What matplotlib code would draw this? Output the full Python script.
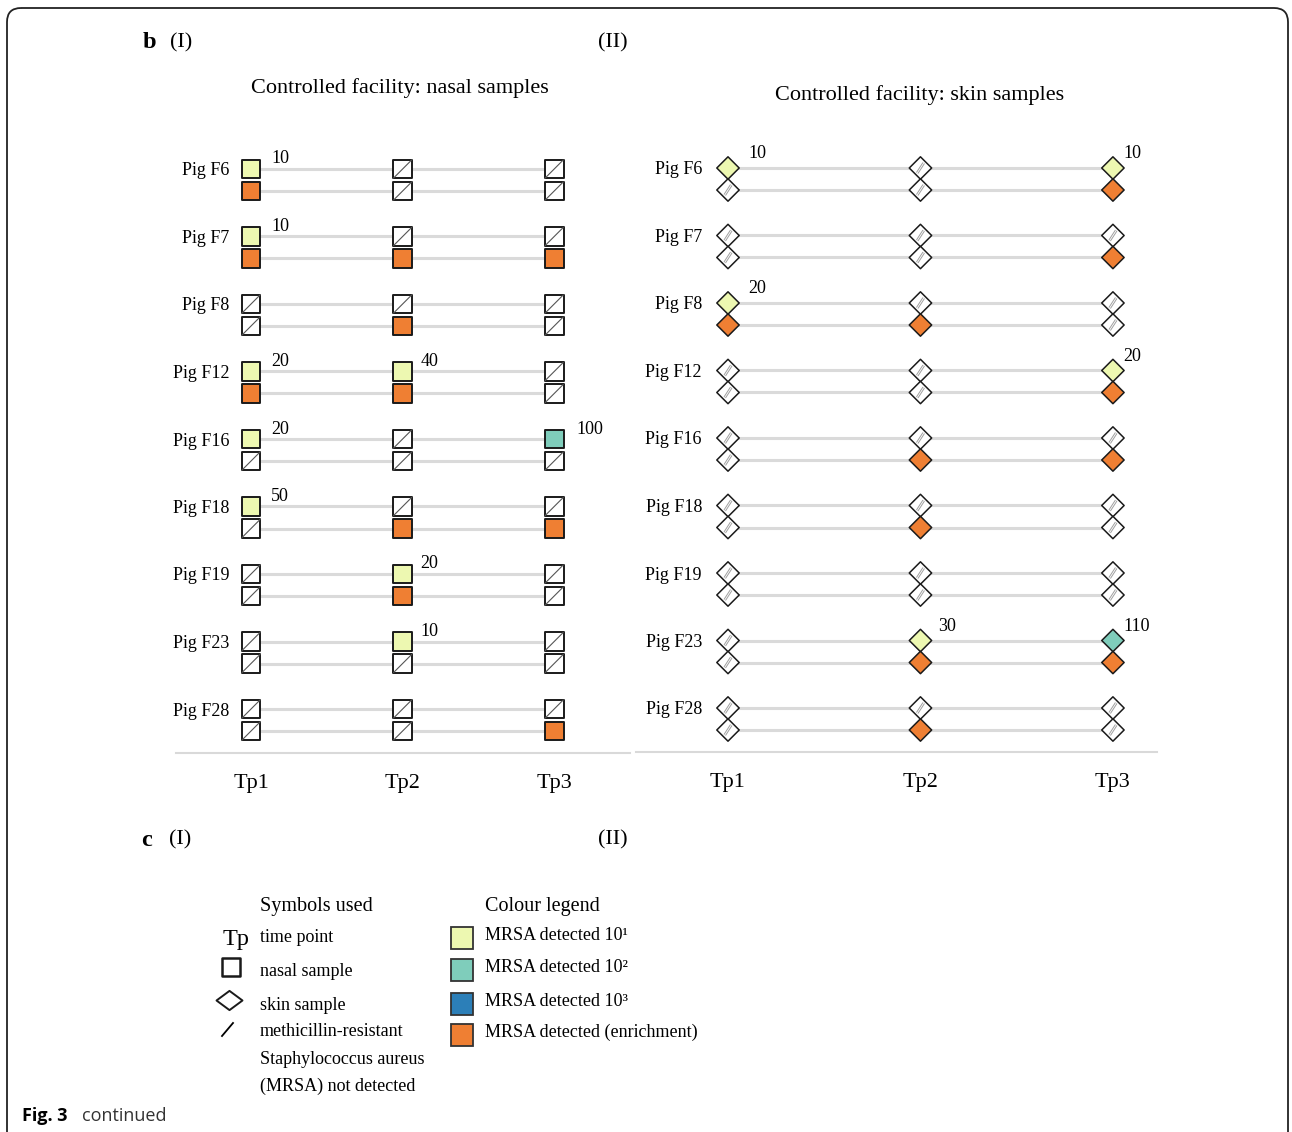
import numpy as np
import matplotlib
matplotlib.use('Agg')
import matplotlib.pyplot as plt
from matplotlib.path import Path
from matplotlib.patches import FancyBboxPatch, Rectangle

plt.rcParams['font.family'] = ['Liberation Serif', 'DejaVu Serif']
plt.rcParams['mathtext.default'] = 'regular'

# ---------------- data ----------------
pigs = ['Pig F6', 'Pig F7', 'Pig F8', 'Pig F12', 'Pig F16',
        'Pig F18', 'Pig F19', 'Pig F23', 'Pig F28']
timepoints = ['Tp1', 'Tp2', 'Tp3']

# MRSA counts from direct plating (0 = not detected); rows = pigs, cols = Tp1..Tp3
nasal_counts = [[10, 0, 0], [10, 0, 0], [0, 0, 0], [20, 40, 0], [20, 0, 100],
                [50, 0, 0], [0, 20, 0], [0, 10, 0], [0, 0, 0]]
# MRSA detected after enrichment (1 = detected, 0 = not detected)
nasal_enrich = [[1, 0, 0], [1, 1, 1], [0, 1, 0], [1, 1, 0], [0, 0, 0],
                [0, 1, 1], [0, 1, 0], [0, 0, 0], [0, 0, 1]]

skin_counts = [[10, 0, 10], [0, 0, 0], [20, 0, 0], [0, 0, 20], [0, 0, 0],
               [0, 0, 0], [0, 0, 0], [0, 30, 110], [0, 0, 0]]
skin_enrich = [[0, 0, 1], [0, 0, 1], [1, 1, 0], [0, 0, 1], [0, 1, 1],
               [0, 1, 0], [0, 0, 0], [0, 1, 1], [0, 1, 0]]

level_colors = ['#edf8b1', '#7fcdbb', '#2c7fb8']   # 10^1, 10^2, 10^3
enrich_color = '#ef7f33'
legend_labels = ['MRSA detected 10¹', 'MRSA detected 10²',
                 'MRSA detected 10³', 'MRSA detected (enrichment)']

# ---------------- style ----------------
W, H = 1292, 1132
PAIR = 22 / 67.5          # vertical offset of enrichment row inside a pig row
LINE_GRAY = '#dadada'
EDGE = '#1a1a1a'

sq_slash = Path([(-1, -1), (1, 1)], [Path.MOVETO, Path.LINETO])
dm_slash = Path([(-0.65, -1), (0.65, 1)], [Path.MOVETO, Path.LINETO])

fig = plt.figure(figsize=(W / 100, H / 100), dpi=100)

# overlay axes in pixel coordinates for frame, headings and legend
ov = fig.add_axes([0, 0, 1, 1], zorder=0)
ov.set_xlim(0, W)
ov.set_ylim(H, 0)
ov.axis('off')


def add_panel(rect_px, xlim, counts, enrich, kind, label_dx, num_dx_list, num_dy):
    l, t, r, b = rect_px
    ax = fig.add_axes([l / W, (H - b) / H, (r - l) / W, (b - t) / H], zorder=2)
    ax.set_facecolor('none')
    counts = np.asarray(counts)
    enrich = np.asarray(enrich)
    n = len(pigs)
    x = np.arange(len(timepoints))
    top_y = np.arange(n, dtype=float)
    bot_y = top_y + PAIR
    for i in range(n):
        for yy in (top_y[i], bot_y[i]):
            ax.plot([x[0], x[-1]], [yy, yy], color=LINE_GRAY, lw=2.2,
                    solid_capstyle='butt', zorder=1)
        ax.annotate(pigs[i], xy=(x[0], top_y[i]), xytext=(label_dx, -2),
                    textcoords='offset pixels', ha='right', va='center',
                    fontsize=13)
    if kind == 'square':
        mk, s, lw = 's', 180, 1.4
    else:
        mk, s, lw = 'D', 130, 1.1
    for i in range(n):
        for j in x:
            c = counts[i, j]
            if c > 0:
                lvl = int(np.floor(np.log10(c))) - 1
                face_t = level_colors[lvl]
            else:
                face_t = 'white'
            face_b = enrich_color if enrich[i, j] else 'white'
            ax.scatter([j, j], [top_y[i], bot_y[i]], s=s, marker=mk,
                       facecolors=[face_t, face_b], edgecolors=EDGE,
                       linewidths=lw, zorder=3)
            for yy, det in ((top_y[i], c > 0), (bot_y[i], enrich[i, j] > 0)):
                if det:
                    continue
                if kind == 'square':
                    ax.scatter([j], [yy], s=s, marker=sq_slash, facecolors='none',
                               edgecolors='#555555', linewidths=0.8, zorder=4)
                else:
                    ax.scatter([j], [yy], s=52, marker=dm_slash, facecolors='none',
                               edgecolors='#a0a0a0', linewidths=2.0, zorder=4)
                    ax.scatter([j], [yy], s=52, marker=dm_slash, facecolors='none',
                               edgecolors='white', linewidths=0.6, zorder=5)
            if c > 0:
                ax.annotate(str(c), xy=(j, top_y[i]),
                            xytext=(num_dx_list[j], num_dy),
                            textcoords='offset pixels', ha='left', va='center',
                            fontsize=13)
    ax.set_xlim(*xlim)
    ax.set_ylim(bot_y[-1] + PAIR, top_y[0] - 39 / 67.5)
    ax.set_xticks(x, timepoints, fontsize=16)
    ax.set_yticks([])
    ax.tick_params(axis='x', length=0, pad=15)
    for sp in ('top', 'left', 'right'):
        ax.spines[sp].set_visible(False)
    ax.spines['bottom'].set_color('#d9d9d9')
    ax.spines['bottom'].set_linewidth(1.5)
    return ax


add_panel((176, 130, 630, 753), (-0.495, 2.50), nasal_counts, nasal_enrich,
          'square', -22, [20, 18, 22], 10)
add_panel((636, 129, 1157, 752), (-0.478, 2.229), skin_counts, skin_enrich,
          'diamond', -26, [20, 18, 10], 14)

# ---------------- frame ----------------
frame = FancyBboxPatch((7, 8), 1281, 1160, boxstyle='round,pad=0,rounding_size=14',
                       fc='none', ec='#222222', lw=1.3, clip_on=False)
ov.add_patch(frame)

# ---------------- headings ----------------
D = 3  # small vertical correction for text centring
ov.text(143, 40 + D, 'b', fontsize=17.5, fontweight='bold', va='center', ha='left')
ov.text(170, 40 + D, '(I)', fontsize=16, va='center', ha='left')
ov.text(598, 40 + D, '(II)', fontsize=16, va='center', ha='left')
ov.text(400, 85 + D, 'Controlled facility: nasal samples', fontsize=16,
        va='center', ha='center')
ov.text(920, 92 + D, 'Controlled facility: skin samples', fontsize=16,
        va='center', ha='center')
ov.text(141, 837 + D, 'c', fontsize=17.5, fontweight='bold', va='center', ha='left')
ov.text(169, 837 + D, '(I)', fontsize=16, va='center', ha='left')
ov.text(598, 837 + D, '(II)', fontsize=16, va='center', ha='left')

# ---------------- legend: symbols ----------------
ov.text(260, 903 + D, 'Symbols used', fontsize=14.5, va='center', ha='left')
ov.text(223, 936 + D, 'Tp', fontsize=17.5, va='center', ha='left')
ov.text(260, 936 + 1, 'time point', fontsize=13, va='center', ha='left')
ov.scatter([231], [967], s=177, marker='s', facecolors='white',
           edgecolors=EDGE, linewidths=1.8)
ov.text(260, 971 + 1, 'nasal sample', fontsize=13, va='center', ha='left')
leg_diamond = Path([(-1, 0), (0, 0.74), (1, 0), (0, -0.74), (-1, 0)],
                   [Path.MOVETO, Path.LINETO, Path.LINETO, Path.LINETO, Path.CLOSEPOLY])
ov.scatter([229], [1000], s=350, marker=leg_diamond, facecolors='white',
           edgecolors=EDGE, linewidths=1.4)
ov.text(260, 1004 + 1, 'skin sample', fontsize=13, va='center', ha='left')
ov.plot([222, 233], [1036, 1023], color='black', lw=1.3)
ov.text(260, 1031 + 1, 'methicillin-resistant', fontsize=13, va='center', ha='left')
ov.text(260, 1058 + 1, 'Staphylococcus aureus', fontsize=13, va='center', ha='left')
ov.text(260, 1085 + 1, '(MRSA) not detected', fontsize=13, va='center', ha='left')

# ---------------- legend: colours ----------------
ov.text(485, 903 + D, 'Colour legend', fontsize=14.5, va='center', ha='left')
leg_colors = level_colors + [enrich_color]
leg_y = [938, 970, 1004, 1035]
text_y = [935, 968, 1001, 1032]
for col, lab, yy, ty in zip(leg_colors, legend_labels, leg_y, text_y):
    ov.add_patch(Rectangle((451, yy - 11), 22, 22, fc=col, ec='#333333', lw=1.3))
    ov.text(485, ty, lab, fontsize=13, va='center', ha='left')

# ---------------- caption ----------------
ov.text(22, 1116, 'Fig. 3', fontsize=13, fontweight='bold', va='center', ha='left',
        family=['Open Sans', 'DejaVu Sans'])
ov.text(82, 1116, 'continued', fontsize=13, va='center', ha='left',
        family=['Open Sans', 'DejaVu Sans'], color='#333333')

fig.savefig('out.png', dpi=100)
